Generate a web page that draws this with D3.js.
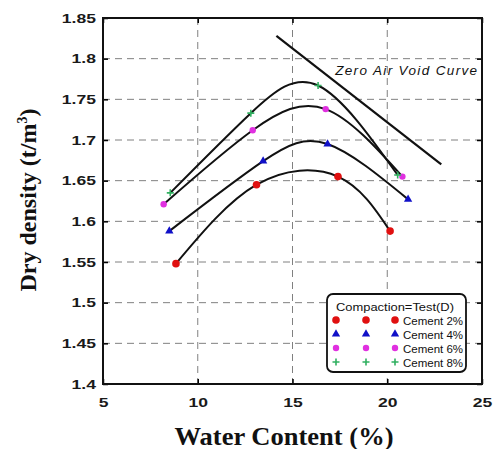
<!DOCTYPE html>
<html>
<head>
<meta charset="utf-8">
<script src="https://cdn.jsdelivr.net/npm/d3@7"></script>
<style>
  body { margin: 0; background: #fff; }
</style>
</head>
<body>
<div id="chart"></div>
<script>
// data
var series = ["Cement 2%", "Cement 4%", "Cement 6%", "Cement 8%"];
var water2 = [8.85, 13.1, 17.4, 20.15];
var dens2 = [1.548, 1.645, 1.655, 1.588];
var water4 = [8.5, 13.45, 16.85, 21.1];
var dens4 = [1.588, 1.674, 1.695, 1.627];
var water6 = [8.2, 12.9, 16.75, 20.8];
var dens6 = [1.621, 1.712, 1.738, 1.655];
var water8 = [8.55, 12.8, 16.35, 20.55];
var dens8 = [1.635, 1.733, 1.767, 1.657];
var zavWater = [14.15, 22.85];
var zavDens = [1.828, 1.670];
var xTicks = [5, 10, 15, 20, 25];
var yTicks = [1.4, 1.45, 1.5, 1.55, 1.6, 1.65, 1.7, 1.75, 1.8, 1.85];

var W = 498, H = 449;
var margin = { top: 18, right: 16, bottom: 65, left: 103 },
  width = W - margin.left - margin.right,
  height = H - margin.top - margin.bottom;

var svg = d3
  .select("#chart")
  .append("svg")
  .attr("width", W)
  .attr("height", H)
  .style("font-family", "Arial, 'Liberation Sans', sans-serif");

var g = svg
  .append("g")
  .attr("transform", "translate(" + margin.left + "," + margin.top + ")");

var x = d3.scaleLinear().domain([5, 25]).range([0, width]);
var y = d3.scaleLinear().domain([1.4, 1.85]).range([height, 0]);

// stretch text a bit wider, the source image is squashed sideways
function widen(sel, k) {
  sel.each(function () {
    var len = this.getComputedTextLength();
    d3.select(this).attr("textLength", len * k).attr("lengthAdjust", "spacingAndGlyphs");
  });
}

// grid
g.append("g")
  .selectAll("line")
  .data(xTicks.slice(1, -1))
  .enter()
  .append("line")
  .attr("x1", (d) => x(d))
  .attr("x2", (d) => x(d))
  .attr("y1", 0)
  .attr("y2", height)
  .attr("stroke", "#808080")
  .attr("stroke-width", 1)
  .attr("stroke-dasharray", "7,5");
g.append("g")
  .selectAll("line")
  .data(yTicks.slice(1, -1))
  .enter()
  .append("line")
  .attr("x1", 0)
  .attr("x2", width)
  .attr("y1", (d) => y(d))
  .attr("y2", (d) => y(d))
  .attr("stroke", "#808080")
  .attr("stroke-width", 1)
  .attr("stroke-dasharray", "7,5");

// axes (ticks inside)
var fmt = (d) => String(+d.toFixed(2));
var xAxis = g
  .append("g")
  .attr("transform", "translate(0," + height + ")")
  .call(d3.axisBottom(x).tickValues(xTicks).tickSize(-5).tickPadding(13).tickFormat(fmt));
var yAxis = g.append("g").call(d3.axisLeft(y).tickValues(yTicks).tickSize(-5).tickPadding(7).tickFormat(fmt));
g.append("g").call(d3.axisRight(y).tickValues(yTicks).tickSize(-5).tickFormat("")).attr("transform", "translate(" + width + ",0)");
g.append("g").call(d3.axisTop(x).tickValues(xTicks).tickSize(-5).tickFormat(""));
g.selectAll(".domain").remove();
g.selectAll(".tick line").attr("stroke", "#000").attr("stroke-width", 1.5);
[xAxis, yAxis].forEach(function (a) {
  a.selectAll("text")
    .attr("font-size", 13.5)
    .attr("font-weight", "bold")
    .attr("fill", "#1a1a1a")
    .attr("font-family", "Arial, 'Liberation Sans', sans-serif")
    .call(widen, 1.3);
});

// frame
g.append("rect")
  .attr("width", width)
  .attr("height", height)
  .attr("fill", "none")
  .attr("stroke", "#111")
  .attr("stroke-width", 2);

// fitted curves
var line = d3
  .line()
  .x((d) => x(d[0]))
  .y((d) => y(d[1]))
  .curve(d3.curveNatural);

var allData = [
  d3.zip(water2, dens2),
  d3.zip(water4, dens4),
  d3.zip(water6, dens6),
  d3.zip(water8, dens8),
];
allData.forEach(function (pts) {
  g.append("path")
    .attr("d", line(pts))
    .attr("fill", "none")
    .attr("stroke", "#111")
    .attr("stroke-width", 2);
});

// zero air void curve
g.append("path")
  .attr("d", d3.line().x((d) => x(d[0])).y((d) => y(d[1]))(d3.zip(zavWater, zavDens)))
  .attr("fill", "none")
  .attr("stroke", "#111")
  .attr("stroke-width", 2.2);
g.append("text")
  .attr("x", x(17.25))
  .attr("y", y(1.78))
  .attr("font-size", 13.5)
  .attr("font-style", "italic")
  .attr("fill", "#111")
  .attr("textLength", 142)
  .attr("lengthAdjust", "spacing")
  .text("Zero Air Void Curve");

// markers
var colors = ["#e01010", "#1010c8", "#e030e0", "#30b060"];
function marker(sel, i) {
  if (i === 0) {
    sel.append("circle").attr("r", 3.8).attr("fill", colors[0]);
  } else if (i === 1) {
    sel.append("path").attr("d", d3.symbol().type(d3.symbolTriangle).size(30)).attr("fill", colors[1]);
  } else if (i === 2) {
    sel.append("circle").attr("r", 3.2).attr("fill", colors[2]);
  } else {
    sel.append("path").attr("d", "M-3.5,0H3.5M0,-3.5V3.5").attr("stroke", colors[3]).attr("stroke-width", 1.6);
  }
}
allData.forEach(function (pts, i) {
  pts.forEach(function (p) {
    var m = g.append("g").attr("transform", "translate(" + x(p[0]) + "," + y(p[1]) + ")");
    marker(m, i);
  });
});

// legend
var leg = svg.append("g").attr("transform", "translate(327,294)");
leg.append("rect")
  .attr("width", 139)
  .attr("height", 78)
  .attr("rx", 6)
  .attr("fill", "#fff")
  .attr("stroke", "#111")
  .attr("stroke-width", 1.8);
leg.append("text")
  .attr("x", 9)
  .attr("y", 17)
  .attr("font-size", 11.5)
  .attr("fill", "#111")
  .attr("textLength", 118)
  .attr("lengthAdjust", "spacingAndGlyphs")
  .text("Compaction=Test(D)");
series.forEach(function (s, i) {
  var yy = 26 + i * 14;
  [9, 39, 68].forEach(function (xx) {
    var m = leg.append("g").attr("transform", "translate(" + xx + "," + yy + ")");
    marker(m, i);
  });
  leg.append("text")
    .attr("x", 76)
    .attr("y", yy + 4.5)
    .attr("font-size", 11.5)
    .attr("fill", "#111")
    .text(s);
});

// axis titles
svg.append("text")
  .attr("x", 284)
  .attr("y", 445)
  .attr("text-anchor", "middle")
  .attr("font-family", "'Times New Roman', 'Liberation Serif', serif")
  .attr("font-weight", "bold")
  .attr("font-size", 25)
  .attr("fill", "#111")
  .attr("textLength", 219)
  .attr("lengthAdjust", "spacingAndGlyphs")
  .text("Water Content (%)");

var yt = svg.append("text")
  .attr("transform", "translate(36,200) rotate(-90)")
  .attr("text-anchor", "middle")
  .attr("font-family", "'Times New Roman', 'Liberation Serif', serif")
  .attr("font-weight", "bold")
  .attr("font-size", 24)
  .attr("fill", "#111");
yt.append("tspan").text("Dry density (t/m");
yt.append("tspan").attr("font-size", 14).attr("dy", -9).text("3");
yt.append("tspan").attr("dy", 9).text(")");
</script>
</body>
</html>
